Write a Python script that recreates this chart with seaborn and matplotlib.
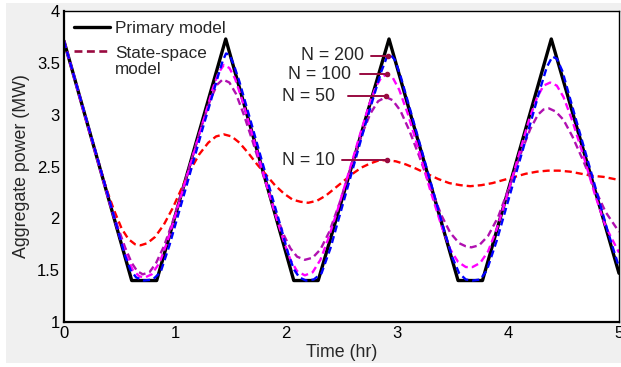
import numpy as np
import pandas as pd
import seaborn as sns
from matplotlib import pyplot as plt
from matplotlib.patches import Rectangle
from matplotlib.lines import Line2D
from matplotlib.legend_handler import HandlerLine2D
from matplotlib.ticker import FormatStrFormatter

# primary model (triangle wave)
prim_t = [0, 0.61, 0.835, 1.457, 2.07, 2.29, 2.928, 3.55, 3.77, 4.39, 5.0]
prim_p = [3.71, 1.40, 1.40, 3.73, 1.40, 1.40, 3.73, 1.40, 1.40, 3.73, 1.47]

# state-space model, N = 10
n10_t = [0, 0.1, 0.2, 0.3, 0.38, 0.45, 0.52, 0.58, 0.64, 0.69, 0.75, 0.82, 0.90, 0.98,
         1.06, 1.14, 1.22, 1.30, 1.37, 1.44, 1.51, 1.58, 1.66, 1.74, 1.82, 1.90, 1.98,
         2.06, 2.13, 2.20, 2.28, 2.36, 2.44, 2.52, 2.60, 2.68, 2.76, 2.84, 2.91, 2.99,
         3.08, 3.17, 3.27, 3.37, 3.47, 3.57, 3.66, 3.76, 3.86, 3.96, 4.06, 4.16, 4.26,
         4.36, 4.46, 4.56, 4.66, 4.76, 4.86, 5.0]
n10_p = [3.71, 3.33, 2.95, 2.58, 2.29, 2.08, 1.90, 1.80, 1.75, 1.74, 1.76, 1.82, 1.94, 2.10,
         2.29, 2.47, 2.62, 2.73, 2.79, 2.81, 2.79, 2.73, 2.63, 2.52, 2.42, 2.32, 2.24,
         2.18, 2.16, 2.15, 2.17, 2.22, 2.29, 2.36, 2.43, 2.49, 2.53, 2.56, 2.56, 2.55,
         2.52, 2.48, 2.43, 2.38, 2.34, 2.32, 2.31, 2.32, 2.34, 2.37, 2.40, 2.43, 2.45,
         2.46, 2.46, 2.45, 2.43, 2.41, 2.40, 2.37]

# N = 50
n50_t = [0, 0.1, 0.2, 0.3, 0.4, 0.48, 0.55, 0.61, 0.66, 0.71, 0.77, 0.83, 0.90, 0.98,
         1.08, 1.18, 1.26, 1.32, 1.38, 1.43, 1.49, 1.55, 1.62, 1.70, 1.80, 1.90, 1.98,
         2.04, 2.10, 2.17, 2.24, 2.31, 2.39, 2.48, 2.58, 2.68, 2.76, 2.83, 2.90, 2.96,
         3.03, 3.11, 3.20, 3.30, 3.40, 3.48, 3.56, 3.62, 3.67, 3.74, 3.82, 3.91, 4.01,
         4.11, 4.20, 4.27, 4.32, 4.37, 4.43, 4.50, 4.58, 4.68, 4.78, 4.88, 5.0]
n50_p = [3.71, 3.33, 2.95, 2.58, 2.21, 1.93, 1.72, 1.57, 1.49, 1.46, 1.48, 1.57, 1.73, 1.97,
         2.32, 2.68, 2.96, 3.15, 3.29, 3.34, 3.31, 3.20, 3.00, 2.74, 2.40, 2.07, 1.84,
         1.71, 1.63, 1.60, 1.62, 1.70, 1.87, 2.14, 2.48, 2.80, 3.01, 3.13, 3.17, 3.14,
         3.04, 2.85, 2.60, 2.30, 2.03, 1.86, 1.76, 1.73, 1.72, 1.74, 1.83, 2.01, 2.30,
         2.61, 2.86, 3.00, 3.05, 3.06, 3.03, 2.95, 2.79, 2.55, 2.29, 2.06, 1.87]

# N = 100
n100_t = [0, 0.1, 0.2, 0.3, 0.4, 0.5, 0.56, 0.62, 0.68, 0.73, 0.79, 0.86, 0.93, 1.0,
          1.1, 1.2, 1.28, 1.34, 1.39, 1.44, 1.49, 1.54, 1.60, 1.70, 1.80, 1.90, 1.98,
          2.04, 2.10, 2.17, 2.24, 2.31, 2.38, 2.47, 2.57, 2.67, 2.75, 2.81, 2.86, 2.91,
          2.96, 3.02, 3.10, 3.20, 3.30, 3.40, 3.48, 3.55, 3.62, 3.68, 3.75, 3.82, 3.90,
          4.00, 4.10, 4.19, 4.26, 4.32, 4.38, 4.44, 4.50, 4.58, 4.68, 4.78, 4.88, 5.0]
n100_p = [3.71, 3.33, 2.95, 2.57, 2.19, 1.83, 1.64, 1.50, 1.44, 1.43, 1.46, 1.57, 1.77, 2.02,
          2.38, 2.74, 3.03, 3.25, 3.40, 3.48, 3.45, 3.35, 3.16, 2.80, 2.42, 2.05, 1.78,
          1.60, 1.49, 1.45, 1.48, 1.60, 1.80, 2.10, 2.46, 2.82, 3.10, 3.27, 3.36, 3.39,
          3.36, 3.24, 3.00, 2.64, 2.27, 1.93, 1.70, 1.58, 1.53, 1.53, 1.57, 1.68, 1.90,
          2.25, 2.62, 2.95, 3.16, 3.28, 3.31, 3.28, 3.17, 2.94, 2.60, 2.24, 1.92, 1.67]

# N = 200
n200_t = [0, 0.45, 0.55, 0.60, 0.65, 0.72, 0.80, 0.87, 0.95, 1.10, 1.25, 1.33, 1.39, 1.43,
          1.46, 1.49, 1.53, 1.58, 1.70, 1.85, 1.95, 2.02, 2.07, 2.12, 2.18, 2.25, 2.32,
          2.40, 2.55, 2.70, 2.80, 2.86, 2.91, 2.94, 2.98, 3.03, 3.15, 3.30, 3.42, 3.50,
          3.56, 3.62, 3.68, 3.75, 3.81, 3.90, 4.05, 4.20, 4.29, 4.35, 4.40, 4.44, 4.49,
          4.60, 4.75, 4.90, 5.0]
n200_p = [3.71, 2.02, 1.64, 1.50, 1.43, 1.40, 1.41, 1.48, 1.74, 2.30, 2.87, 3.16, 3.38, 3.52,
          3.59, 3.58, 3.48, 3.32, 2.87, 2.30, 1.93, 1.66, 1.51, 1.43, 1.40, 1.41, 1.47,
          1.71, 2.28, 2.85, 3.21, 3.42, 3.56, 3.58, 3.53, 3.38, 2.93, 2.36, 1.90, 1.62,
          1.47, 1.41, 1.40, 1.41, 1.50, 1.79, 2.35, 2.91, 3.25, 3.46, 3.56, 3.54, 3.42,
          3.00, 2.44, 1.87, 1.53]

# annotation labels and where they point
ann_labels = ['N = 200', 'N = 100', 'N = 50', 'N = 10']
ann_text_x = [2.70, 2.59, 2.44, 2.44]
ann_line_x = [2.77, 2.67, 2.56, 2.50]
ann_tip_x = [2.92, 2.91, 2.90, 2.91]
ann_tip_y = [3.57, 3.39, 3.18, 2.56]

sns.set_style('white')
plt.rcParams['font.family'] = ['Liberation Sans', 'DejaVu Sans']

maroon = '#990a40'
dash = (0, (3.0, 1.7))

fig = plt.figure(figsize=(6.21, 3.67), dpi=100)
fig.patch.set_facecolor('white')
fig.add_artist(Rectangle((6/621, 4.5/367), 615/621, 359.5/367, transform=fig.transFigure,
                         facecolor='#f0f0f0', edgecolor='none', zorder=-10))
ax = fig.add_axes([64/621, 45/367, 555/621, 311/367])
ax.set_facecolor('white')

sns.lineplot(x=prim_t, y=prim_p, ax=ax, color='black', lw=2.4, sort=False, estimator=None, legend=False)
series = [(n10_t, n10_p, '#ff0000'), (n50_t, n50_p, '#b010b0'),
          (n100_t, n100_p, '#ff00ff'), (n200_t, n200_p, '#0000ff')]
for t, p, c in series:
    df = pd.DataFrame({'t': t, 'p': p})
    sns.lineplot(data=df, x='t', y='p', ax=ax, color=c, lw=1.7, sort=False, estimator=None,
                 legend=False, linestyle=dash)

for lab, tx, lx, px, py in zip(ann_labels, ann_text_x, ann_line_x, ann_tip_x, ann_tip_y):
    ax.text(tx, py, lab, ha='right', va='center', fontsize=12.8)
    ax.plot([lx, px], [py, py], color=maroon, lw=1.4, marker='o', markevery=[1], ms=3)

ax.set_xlim(0, 5)
ax.set_ylim(1, 4)
ax.set_xticks(np.arange(0, 6, 1))
ax.set_yticks(np.arange(1, 4.01, 0.5))
ax.yaxis.set_major_formatter(FormatStrFormatter('%g'))
ax.tick_params(direction='in', length=4, color='#999999', labelsize=12, labelcolor='black', pad=3)
ax.set_xlabel('Time (hr)', fontsize=12.8, labelpad=2)
ax.set_ylabel('Aggregate power (MW)', fontsize=12.8, labelpad=5)
for s in ['left', 'bottom']:
    ax.spines[s].set_linewidth(1.6)
for s in ['top', 'right']:
    ax.spines[s].set_linewidth(1.0)
for s in ax.spines.values():
    s.set_color('black')


class TopLine(HandlerLine2D):
    # put the dashed sample next to the first line of a two-line label
    def create_artists(self, legend, orig_handle, xdescent, ydescent, width, height, fontsize, trans):
        arts = super().create_artists(legend, orig_handle, xdescent, ydescent, width, height, fontsize, trans)
        for a in arts:
            a.set_ydata(np.asarray(a.get_ydata()) + fontsize * 0.62)
        return arts


h1 = Line2D([], [], color='black', lw=2.4)
h2 = Line2D([], [], color=maroon, lw=1.9, linestyle=dash)
leg = ax.legend([h1, h2], ['Primary model', 'State-space\nmodel'], loc='upper left',
                frameon=False, fontsize=12.3, handlelength=2.1, handletextpad=0.3,
                borderaxespad=0.2, labelspacing=0.55, handler_map={h2: TopLine()})
for t in leg.get_texts():
    t.set_linespacing(1.08)

fig.savefig('out.png', dpi=100)
